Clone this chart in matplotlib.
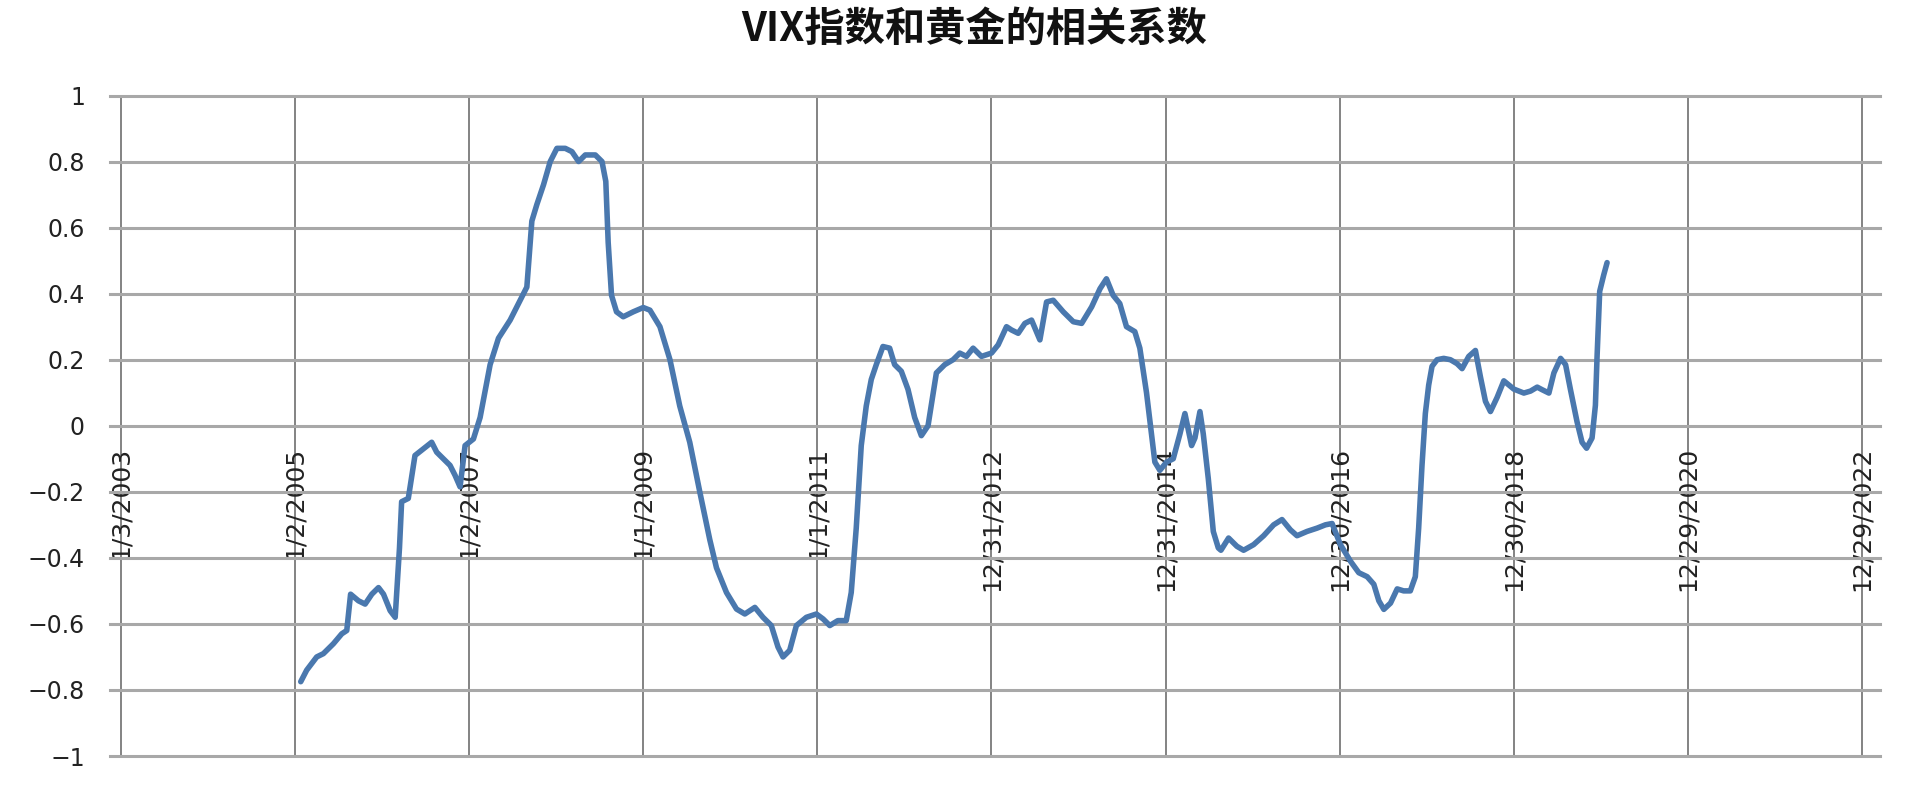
"""
VIX指数和黄金的相关系数 — rolling correlation of VIX and gold, Excel-style line chart.
"""

import matplotlib
matplotlib.use("Agg")
import matplotlib.pyplot as plt
import matplotlib.dates as mdates
import pandas as pd

plt.rcParams.update({
    'font.family': ['DejaVu Sans'],
    'axes.unicode_minus': True,
})

TITLE = "VIX指数和黄金的相关系数"

# ── Data ────────────────────────────────────────────────────
dates = [
    "2005-01-26", "2005-02-20", "2005-04-03", "2005-05-01", "2005-06-12", "2005-07-17",
    "2005-08-07", "2005-08-23", "2005-09-25", "2005-10-23", "2005-11-20", "2005-12-18",
    "2006-01-08", "2006-02-05", "2006-02-26", "2006-03-16", "2006-03-25", "2006-04-22",
    "2006-05-20", "2006-06-24", "2006-07-29", "2006-08-19", "2006-09-16", "2006-10-14",
    "2006-11-04", "2006-11-25", "2006-12-16", "2007-01-20", "2007-02-17", "2007-03-31",
    "2007-05-05", "2007-06-23", "2007-08-04", "2007-09-01", "2007-09-22", "2007-10-13",
    "2007-11-10", "2007-12-08", "2008-01-05", "2008-02-09", "2008-03-08", "2008-04-05",
    "2008-05-03", "2008-06-14", "2008-07-12", "2008-07-28", "2008-08-07", "2008-08-21",
    "2008-09-11", "2008-10-09", "2008-11-20", "2009-01-01", "2009-01-29", "2009-03-12",
    "2009-04-23", "2009-06-03", "2009-07-15", "2009-08-26", "2009-10-07", "2009-11-04",
    "2009-12-16", "2010-01-27", "2010-03-03", "2010-04-14", "2010-05-18", "2010-06-22",
    "2010-07-20", "2010-08-10", "2010-09-07", "2010-10-05", "2010-11-16", "2010-12-28",
    "2011-01-25", "2011-02-22", "2011-03-28", "2011-05-02", "2011-05-23", "2011-06-13",
    "2011-07-04", "2011-07-25", "2011-08-15", "2011-09-05", "2011-10-03", "2011-10-31",
    "2011-11-21", "2011-12-19", "2012-01-16", "2012-02-13", "2012-03-12", "2012-04-09",
    "2012-05-14", "2012-06-18", "2012-07-23", "2012-08-20", "2012-09-17", "2012-10-15",
    "2012-11-19", "2012-12-31", "2013-01-28", "2013-03-04", "2013-03-25", "2013-04-22",
    "2013-05-20", "2013-06-17", "2013-07-22", "2013-08-19", "2013-09-16", "2013-10-28",
    "2013-12-09", "2014-01-13", "2014-02-24", "2014-03-31", "2014-04-27", "2014-05-25",
    "2014-06-22", "2014-07-20", "2014-08-24", "2014-09-14", "2014-10-12", "2014-11-02",
    "2014-11-16", "2014-12-07", "2015-01-04", "2015-02-01", "2015-03-01", "2015-03-22",
    "2015-04-19", "2015-05-03", "2015-05-24", "2015-06-07", "2015-06-28", "2015-07-19",
    "2015-08-09", "2015-08-20", "2015-09-21", "2015-10-26", "2015-11-23", "2016-01-04",
    "2016-02-15", "2016-03-28", "2016-05-02", "2016-06-06", "2016-07-04", "2016-08-15",
    "2016-09-26", "2016-10-31", "2016-11-28", "2017-01-02", "2017-02-13", "2017-03-20",
    "2017-04-24", "2017-05-22", "2017-06-12", "2017-07-03", "2017-07-31", "2017-08-28",
    "2017-09-24", "2017-10-22", "2017-11-12", "2017-11-26", "2017-12-10", "2017-12-24",
    "2018-01-07", "2018-01-21", "2018-02-11", "2018-03-11", "2018-04-08", "2018-05-06",
    "2018-05-27", "2018-06-24", "2018-07-22", "2018-08-12", "2018-09-02", "2018-09-23",
    "2018-10-21", "2018-11-18", "2018-12-30", "2019-02-10", "2019-03-10", "2019-04-07",
    "2019-04-28", "2019-05-26", "2019-06-16", "2019-07-14", "2019-08-04", "2019-08-24",
    "2019-09-21", "2019-10-12", "2019-10-31", "2019-11-23", "2019-12-07", "2019-12-14",
    "2019-12-25", "2020-01-11", "2020-01-25",
]

correlation = [
    -0.775, -0.74, -0.70, -0.69, -0.66, -0.63,
    -0.62, -0.51, -0.53, -0.54, -0.51, -0.49,
    -0.51, -0.56, -0.58, -0.37, -0.23, -0.22,
    -0.09, -0.07, -0.05, -0.08, -0.10, -0.12,
    -0.15, -0.185, -0.06, -0.04, 0.025, 0.185,
    0.265, 0.32, 0.38, 0.42, 0.62, 0.67,
    0.73, 0.80, 0.84, 0.84, 0.83, 0.80,
    0.82, 0.82, 0.80, 0.74, 0.555, 0.395,
    0.345, 0.33, 0.345, 0.358, 0.35, 0.30,
    0.20, 0.06, -0.05, -0.20, -0.345, -0.43,
    -0.505, -0.555, -0.57, -0.55, -0.58, -0.605,
    -0.67, -0.70, -0.68, -0.605, -0.58, -0.57,
    -0.585, -0.605, -0.59, -0.59, -0.505, -0.31,
    -0.06, 0.06, 0.14, 0.185, 0.24, 0.235,
    0.185, 0.165, 0.11, 0.025, -0.03, 0.0,
    0.16, 0.185, 0.20, 0.22, 0.21, 0.235,
    0.21, 0.22, 0.245, 0.30, 0.29, 0.28,
    0.31, 0.32, 0.26, 0.375, 0.38, 0.345,
    0.315, 0.31, 0.36, 0.415, 0.445, 0.395,
    0.37, 0.30, 0.285, 0.235, 0.10, -0.025,
    -0.11, -0.135, -0.11, -0.10, -0.025, 0.037,
    -0.06, -0.037, 0.043, -0.025, -0.16, -0.32,
    -0.37, -0.377, -0.34, -0.365, -0.377, -0.36,
    -0.333, -0.30, -0.284, -0.315, -0.333, -0.32,
    -0.31, -0.30, -0.296, -0.36, -0.41, -0.445,
    -0.457, -0.48, -0.53, -0.556, -0.537, -0.494,
    -0.50, -0.50, -0.457, -0.31, -0.12, 0.037,
    0.123, 0.18, 0.20, 0.204, 0.20, 0.188,
    0.173, 0.21, 0.228, 0.148, 0.074, 0.043,
    0.086, 0.136, 0.111, 0.099, 0.105, 0.117,
    0.109, 0.099, 0.16, 0.204, 0.185, 0.111,
    0.012, -0.05, -0.068, -0.037, 0.062, 0.21,
    0.407, 0.457, 0.494,
]

x_ticks = [
    "2003-01-03", "2005-01-02", "2007-01-02", "2009-01-01", "2011-01-01", "2012-12-31",
    "2014-12-31", "2016-12-30", "2018-12-30", "2020-12-29", "2022-12-29",
]
y_ticks = [-1, -0.8, -0.6, -0.4, -0.2, 0, 0.2, 0.4, 0.6, 0.8, 1]


def main():
    x = pd.to_datetime(dates)
    ticks = pd.to_datetime(x_ticks)

    fig = plt.figure(figsize=(19.15, 7.88), dpi=100)
    ax = fig.add_axes([0.0574, 0.0406, 0.9243, 0.8382])

    # Horizontal gridlines (not clipped so the edge lines keep full width)
    for y in y_ticks:
        ax.axhline(y, color="#a8a8a8", linewidth=2.2, clip_on=False, zorder=1)

    ax.plot(x, correlation, color="#4a78ae", linewidth=4.0,
            solid_joinstyle="round", solid_capstyle="round", zorder=4)

    ax.set_ylim(-1, 1)
    ax.set_xlim(ticks[0] - pd.Timedelta(days=46), ticks[-1] + pd.Timedelta(days=75))

    ax.set_yticks(y_ticks)
    ax.set_yticklabels(["{:g}".format(v).replace("-", "\u2212") for v in y_ticks])
    ax.tick_params(axis="y", length=0, pad=18, labelsize=17, labelcolor="#222222")

    # Date axis crosses at 0, labels rotated like Excel
    ax.spines["bottom"].set_position(("data", 0))
    for s in ax.spines.values():
        s.set_visible(False)
    ax.set_xticks(ticks)
    ax.set_xticklabels([f"{d.month}/{d.day}/{d.year}" for d in ticks], rotation=90)
    ax.tick_params(axis="x", length=0, pad=15, labelsize=18, labelcolor="#222222")
    ax.xaxis.grid(True, color="#7a7a7a", linewidth=1.3)
    ax.set_axisbelow(True)

    fig.text(0.5086, 0.962, TITLE, ha="center", va="center",
             fontsize=29, fontweight="bold",
             family=["Noto Sans CJK SC", "DejaVu Sans"], color="#111111")

    fig.savefig("out.png", dpi=100, facecolor="white")


if __name__ == "__main__":
    main()
